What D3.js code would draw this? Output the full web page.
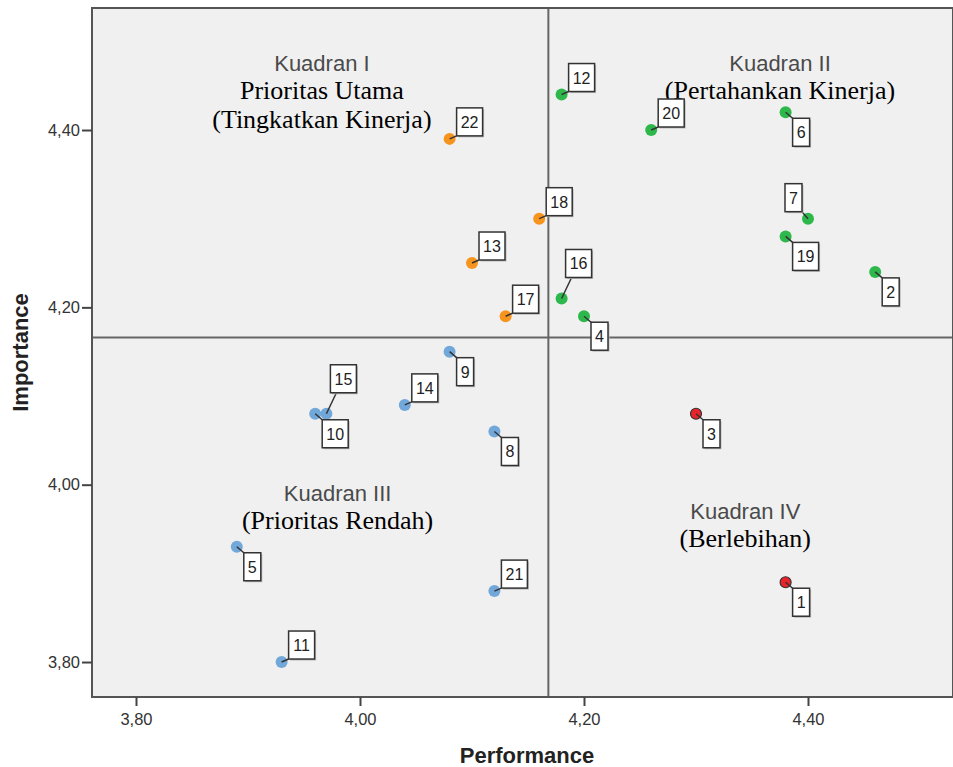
<!DOCTYPE html>
<html><head><meta charset="utf-8">
<script src="https://cdn.jsdelivr.net/npm/d3@7"></script>
<style>body{margin:0;background:#fff}</style>
</head><body><svg id="c" width="953" height="767"></svg>
<script>
// ---- data ----
const ids         = [1,2,3,4,5,6,7,8,9,10,11,12,13,14,15,16,17,18,19,20,21,22];
const performance = [4.38,4.46,4.30,4.20,3.89,4.38,4.40,4.12,4.08,3.96,3.93,4.18,4.10,4.04,3.97,4.18,4.13,4.16,4.38,4.26,4.12,4.08];
const importance  = [3.89,4.24,4.08,4.19,3.93,4.42,4.30,4.06,4.15,4.08,3.80,4.44,4.25,4.09,4.08,4.21,4.19,4.30,4.28,4.40,3.88,4.39];
const xTicks = [3.80, 4.00, 4.20, 4.40];
const yTicks = [3.80, 4.00, 4.20, 4.40];
const xTitle = "Performance";
const yTitle = "Importance";
// label placement per id (layout only)
const labelPlace = {1:"lr",2:"lr",3:"lr",4:"lr",5:"lr",6:"lr",7:"ul",8:"lr",9:"lr",10:"lr",
  11:"ur",12:"ur",13:"ur",14:"ur",15:"urL",16:"urL",17:"ur",18:"ur",19:"lr",20:"ur",21:"ur",22:"ur"};
// quadrant annotations (anchor in data units, lines)
const quadNotes = [
  {x:3.966, y:4.4665, lines:[["Kuadran I","sans",0],["Prioritas Utama","serif",28],["(Tingkatkan Kinerja)","serif",57]]},
  {x:4.375, y:4.4666, lines:[["Kuadran II","sans",0],["(Pertahankan Kinerja)","serif",28]]},
  {x:3.980, y:3.9816, lines:[["Kuadran III","sans",0],["(Prioritas Rendah)","serif",28]]},
  {x:4.344, y:3.9613, lines:[["Kuadran IV","sans",0],["(Berlebihan)","serif",28]]}
];
const quadColors = {q1:"#F7941D", q2:"#2EB84B", q3:"#72A7DA", q4:"#E8242B"};

// ---- chart ----
const svg = d3.select("#c");
const L = 92, R = 953, T = 8, B = 697;
const x = d3.scaleLinear().domain([3.76, 4.53]).range([91.2, 953.6]);
const y = d3.scaleLinear().domain([3.76, 4.5376]).range([697.5, 8]);

const pts = ids.map((id,i)=>({id, p:performance[i], im:importance[i]}));
const mx = d3.mean(performance), my = d3.mean(importance);

svg.append("rect").attr("x",L).attr("y",T).attr("width",R-L).attr("height",B-T)
  .attr("fill","#f0f0f0");

// reference lines
svg.append("line").attr("x1",x(mx)).attr("x2",x(mx)).attr("y1",T).attr("y2",B)
  .attr("stroke","#666").attr("stroke-width",2);
svg.append("line").attr("x1",L).attr("x2",R).attr("y1",y(my)).attr("y2",y(my))
  .attr("stroke","#666").attr("stroke-width",2);

// frame
svg.append("rect").attr("x",L).attr("y",T).attr("width",R-L).attr("height",B-T)
  .attr("fill","none").attr("stroke","#555").attr("stroke-width",2);

// axes
const fmt = d=>d3.format(".2f")(d).replace(".",",");
const xAxis = svg.append("g").attr("transform",`translate(0,${B})`)
  .call(d3.axisBottom(x).tickValues(xTicks).tickSize(9).tickPadding(7).tickFormat(fmt));
const yAxis = svg.append("g").attr("transform",`translate(${L},0)`)
  .call(d3.axisLeft(y).tickValues(yTicks).tickSize(10).tickPadding(2).tickFormat(fmt));
[xAxis,yAxis].forEach(a=>{
  a.select(".domain").remove();
  a.selectAll(".tick line").attr("stroke","#444").attr("stroke-width",2);
  a.selectAll(".tick text").attr("fill","#333").style("font-family","Arial, 'Liberation Sans', sans-serif").style("font-size","16.5px");
});

svg.append("text").attr("x",527).attr("y",763).attr("text-anchor","middle")
  .style("font-family","Arial, 'Liberation Sans', sans-serif").style("font-weight","bold").style("font-size","22px")
  .attr("fill","#222").text(xTitle);
svg.append("text").attr("transform",`translate(28,${(T+B)/2}) rotate(-90)`).attr("text-anchor","middle")
  .style("font-family","Arial, 'Liberation Sans', sans-serif").style("font-weight","bold").style("font-size","22px")
  .attr("fill","#222").text(yTitle);

// quadrant notes
quadNotes.forEach(q=>{
  q.lines.forEach(([t,f,dy])=>{
    svg.append("text").attr("x",x(q.x)).attr("y",y(q.y)+dy).attr("text-anchor","middle")
      .style("font-family", f==="sans" ? "Arial, 'Liberation Sans', sans-serif" : "'Times New Roman', 'Liberation Serif', serif")
      .style("font-size", f==="sans" ? "22px" : "26px")
      .attr("fill", f==="sans" ? "#4a4a4a" : "#000").text(t);
  });
});

// points
function colorOf(d){
  if (d.p < mx && d.im >= my) return quadColors.q1;
  if (d.p >= mx && d.im >= my) return quadColors.q2;
  if (d.p < mx && d.im < my) return quadColors.q3;
  return quadColors.q4;
}
const g = svg.append("g");
pts.forEach(d=>{
  const px = x(d.p), py = y(d.im);
  const isRed = colorOf(d)===quadColors.q4;
  g.append("circle").attr("cx",px).attr("cy",py).attr("r",isRed?5.5:6)
    .attr("fill",colorOf(d))
    .attr("stroke",isRed?"#333":"none").attr("stroke-width",1.2);
});

// labels
const lg = svg.append("g");
pts.forEach(d=>{
  const px = x(d.p), py = y(d.im);
  const txt = String(d.id);
  const w = txt.length===1 ? 17 : 26, h = 28;
  const pl = labelPlace[d.id];
  let bx, by, cx, cy;
  if (pl==="ur"){ bx = px+7; by = py-3-h; cx = bx; cy = by+h; }
  else if (pl==="urL"){ bx = px+4; by = py-21-h; cx = bx+6; cy = by+h; }
  else if (pl==="lr"){ bx = px+7; by = py+6; cx = bx; cy = by; }
  else { bx = px-6-w; by = py-7-h; cx = bx+w; cy = by+h; }
  lg.append("line").attr("x1",px).attr("y1",py).attr("x2",cx).attr("y2",cy)
    .attr("stroke","#333").attr("stroke-width",1.5);
  lg.append("rect").attr("x",bx+1.5).attr("y",by+1.5).attr("width",w).attr("height",h)
    .attr("fill","#bbb");
  lg.append("rect").attr("x",bx).attr("y",by).attr("width",w).attr("height",h)
    .attr("fill","#fff").attr("stroke","#333").attr("stroke-width",1.5);
  lg.append("text").attr("x",bx+w/2).attr("y",by+h/2+6).attr("text-anchor","middle")
    .style("font-family","Arial, 'Liberation Sans', sans-serif").style("font-size","16px")
    .attr("fill","#222").text(txt);
});
</script>
</body></html>
